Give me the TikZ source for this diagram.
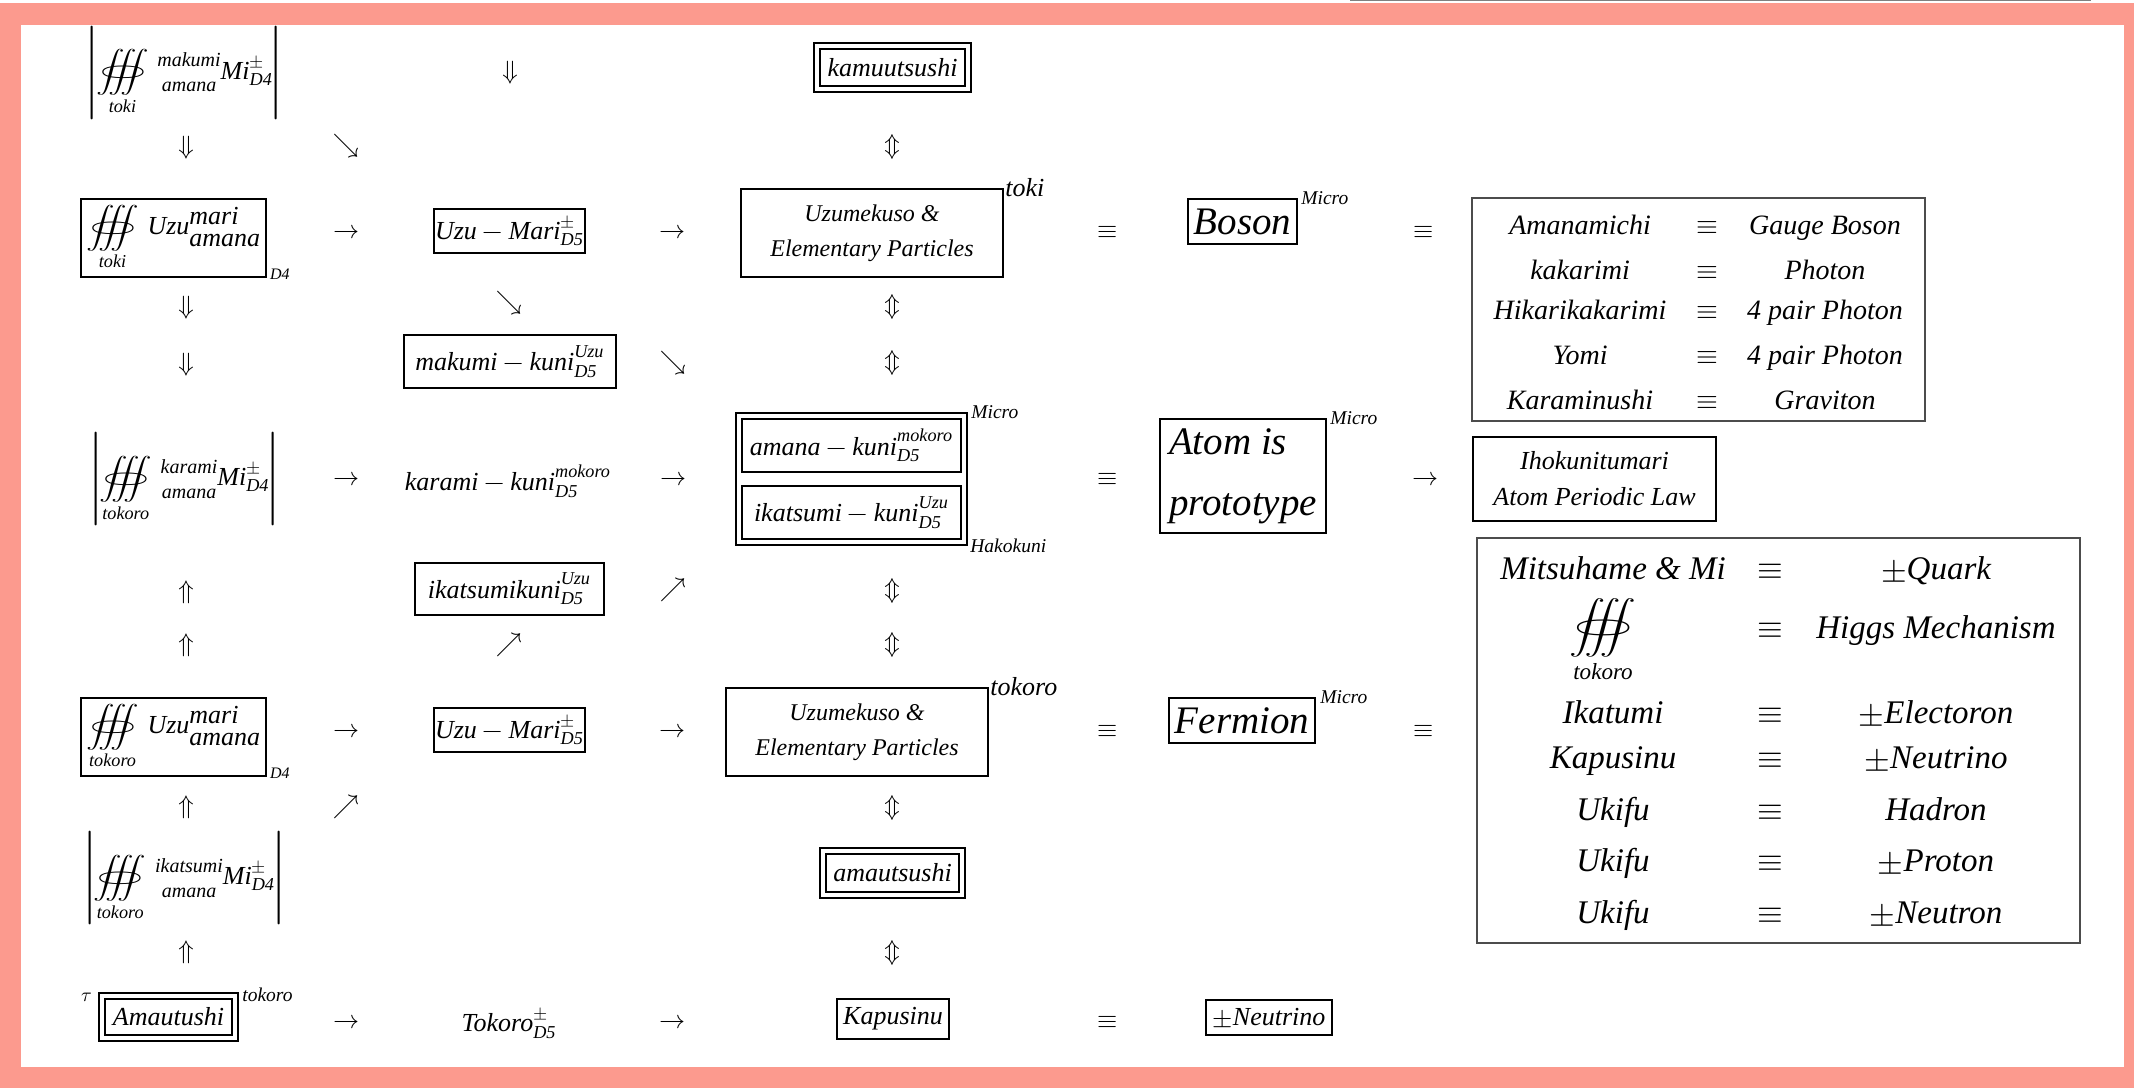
\documentclass[tikz,border=0pt]{standalone}
\usepackage{amsmath}
\usepackage{graphicx}
\usepackage{unicode-math}
\setmainfont{Liberation Serif}
\setmathfont{Latin Modern Math}
\usetikzlibrary{positioning,fit}
\definecolor{framepink}{HTML}{FC9A8E}
\newcommand{\w}[1]{\textit{#1}}
\newcommand{\tint}[1]{\mathop{\vcenter{\hbox{\scalebox{1.1}[0.8]{$\displaystyle\oiiint$}}}}\limits_{\w{#1}}}
\newcommand{\pre}[1]{\text{\fontsize{10}{12.5}\selectfont\itshape\begin{tabular}{@{}c@{}}#1\\amana\end{tabular}}}
\newcommand{\uzu}{\w{Uzu}\rlap{\raisebox{5pt}{\itshape mari}}\raisebox{-6pt}{\itshape amana}}

\begin{document}
\begin{tikzpicture}[x=0.5pt,y=-0.5pt,
	every node/.style={inner sep=0pt,font=\fontsize{13}{16}\selectfont\itshape},
	bx/.style 2 args={draw,line width=1pt,minimum width=#1*0.5pt,minimum height=#2*0.5pt},
	dbx/.style 2 args={bx={#1}{#2},double,double distance=1.9pt},
	suptext/.style={font=\fontsize{9.75}{12}\selectfont\itshape},
	bigtext/.style={font=\fontsize{19.5}{30.5}\selectfont\itshape},
	tabA/.style={font=\fontsize{14}{17}\selectfont\itshape,anchor=base},
	tabB/.style={font=\fontsize{16.5}{20}\selectfont\itshape,anchor=base},
	tabframe/.style={draw=black!70,line width=0.8pt}]

	% frame
	\useasboundingbox (0,0) rectangle (2134,1088);
	\fill[white] (0,0) rectangle (2134,1088);
	\draw[gray,line width=0.5pt] (1350,0.5) -- (2091,0.5);
	\fill[framepink] (0,2.7) rectangle (2134,1088);
	\fill[white] (21,25) rectangle (2124,1067);

	% left column
	\node (mimak) at (184.5,72.5) {$\left|\tint{toki}\,\pre{makumi}\w{Mi}^{\pm}_{\w{D4}}\right|$};
	\node[bx={185}{78}] (uzutoki) at (173.25,238) {$\tint{toki}\,\uzu$};
	\node[font=\fontsize{8}{10}\selectfont\itshape,anchor=west] (uzutokid) at ([xshift=1.5pt,yshift=2pt]uzutoki.south east) {D4};
	\node (mikar) at (184.5,479) {$\left|\tint{tokoro}\,\pre{karami}\w{Mi}^{\pm}_{\w{D4}}\right|$};
	\node[bx={185}{78}] (uzutok) at (173.25,737) {$\tint{tokoro}\,\uzu$};
	\node[font=\fontsize{8}{10}\selectfont\itshape,anchor=west] (uzutokd) at ([xshift=1.5pt,yshift=2pt]uzutok.south east) {D4};
	\node (miika) at (184.5,878) {$\left|\tint{tokoro}\,\pre{ikatsumi}\w{Mi}^{\pm}_{\w{D4}}\right|$};
	\node[dbx={133}{42}] (amaut) at (168.5,1017) {Amautushi};
	\node[suptext,anchor=east] (amautau) at ([xshift=-4.5pt,yshift=-1pt]amaut.north west) {$\tau$};
	\node[suptext,anchor=west] (amautok) at ([xshift=3pt]amaut.north east) {tokoro};

	% second column
	\node[bx={151}{44}] (umari1) at (509.5,231) {$\w{Uzu}-\w{Mari}^{\pm}_{\w{D5}}$};
	\node[bx={212}{53}] (makkuni) at (510,361.5) {$\w{makumi}-\w{kuni}^{\w{Uzu}}_{\w{D5}}$};
	\node (karkuni) at (508,481) {$\w{karami}-\w{kuni}^{\w{mokoro}}_{\w{D5}}$};
	\node[bx={189}{52}] (ikakuni) at (509.5,589) {$\w{ikatsumikuni}^{\w{Uzu}}_{\w{D5}}$};
	\node[bx={151}{44}] (umari2) at (509.5,730) {$\w{Uzu}-\w{Mari}^{\pm}_{\w{D5}}$};
	\node (tokd5) at (509,1023) {$\w{Tokoro}^{\pm}_{\w{D5}}$};

	% middle column
	\node[dbx={151}{43}] (kamu) at (892.5,67.5) {kamuutsushi};
	\node[bx={262}{88},align=center,font=\fontsize{12}{17.5}\selectfont\itshape] (uzume1) at (872,233) {Uzumekuso \&\\Elementary Particles};
	\node[anchor=west] (uzume1s) at ([xshift=0.5pt]uzume1.north east) {toki};
	\node[bx={219}{53}] (hako1) at (851.5,445.5) {$\w{amana}-\w{kuni}^{\w{mokoro}}_{\w{D5}}$};
	\node[bx={219}{53}] (hako2) at (851.5,512.5) {$\w{ikatsumi}-\w{kuni}^{\w{Uzu}}_{\w{D5}}$};
	\node[draw,line width=1pt,fit=(hako1)(hako2),inner sep=2.5pt] (hako) {};
	\node[suptext,anchor=west] (hakomic) at ([xshift=1.5pt]hako.north east) {Micro};
	\node[suptext,anchor=west] (hakoname) at ([xshift=1pt]hako.south east) {Hakokuni};
	\node[bx={262}{88},align=center,font=\fontsize{12}{17.5}\selectfont\itshape] (uzume2) at (857,732) {Uzumekuso \&\\Elementary Particles};
	\node[anchor=west] (uzume2s) at ([xshift=0.5pt]uzume2.north east) {tokoro};
	\node[dbx={139}{44}] (amau) at (892.5,873) {amautsushi};
	\node[bx={112}{40}] (kapu) at (893,1019) {Kapusinu};

	% particle column
	\node[bx={109}{45},bigtext] (boson) at (1242.5,221.5) {Boson};
	\node[suptext,anchor=west] (bosonmic) at ([xshift=1.5pt]boson.north east) {Micro};
	\node[bx={166}{114},bigtext,align=left] (atom) at (1243,476) {Atom is\\prototype};
	\node[suptext,anchor=west] (atommic) at ([xshift=1.5pt]atom.north east) {Micro};
	\node[bx={146}{45},bigtext] (fermion) at (1242,720.5) {Fermion};
	\node[suptext,anchor=west] (fermmic) at ([xshift=2pt]fermion.north east) {Micro};
	\node[bx={126}{35}] (neutr) at (1269,1017.5) {$\pm$Neutrino};

	% arrows
	\foreach \px/\py [count=\i] in {510/73,186/148,186/308,186/365}
		\node (dn\i) at (\px,\py) {$\Downarrow$};
	\foreach \px/\py [count=\i] in {186/592,186/645,186/807,186/952}
		\node (up\i) at (\px,\py) {$\Uparrow$};
	\foreach \px/\py [count=\i] in {346/146,509/303,673/363}
		\node (se\i) at (\px,\py) {$\searrow$};
	\foreach \px/\py [count=\i] in {673/590,509/645,346/807}
		\node (ne\i) at (\px,\py) {$\nearrow$};
	\foreach \px/\py [count=\i] in {346/232,672/232,346/479,673/479,346/731,672/731,346/1022,672/1022,1425/479}
		\node (ri\i) at (\px,\py) {$\rightarrow$};
	\foreach \py [count=\i] in {147,307,363,591,645,808,953}
		\node (ud\i) at (892,\py) {$\Updownarrow$};
	\foreach \px/\py [count=\i] in {1108/232,1424/232,1108/479,1108/731,1424/731,1108/1022}
		\node (eq\i) at (\px,\py) {$\equiv$};

	% boson table
	\draw[tabframe] (1472,198) rectangle (1925,421);
	\foreach \by/\lt/\rt [count=\i] in {234/Amanamichi/Gauge Boson,279/kakarimi/Photon,319/Hikarikakarimi/4 pair Photon,364/Yomi/4 pair Photon,409/Karaminushi/Graviton}{
		\node[tabA] (bl\i) at (1580,\by) {\lt};
		\node[tabA] (be\i) at (1707,\by) {$\equiv$};
		\node[tabA] (br\i) at (1825,\by) {\rt};
	}

	\node[bx={243}{84},align=center,font=\fontsize{13}{18}\selectfont\itshape] (ihoku) at (1594.5,479) {Ihokunitumari\\Atom Periodic Law};

	% fermion table
	\draw[tabframe] (1477,538) rectangle (2080,943);
	\foreach \by/\lt/\rt [count=\i] in {579/Mitsuhame \& Mi/{$\pm$Quark},723/Ikatumi/{$\pm$Electoron},768/Kapusinu/{$\pm$Neutrino},820/Ukifu/Hadron,871/Ukifu/{$\pm$Proton},923/Ukifu/{$\pm$Neutron}}{
		\node[tabB] (fl\i) at (1613,\by) {\lt};
		\node[tabB] (fe\i) at (1770,\by) {$\equiv$};
		\node[tabB] (fr\i) at (1936,\by) {\rt};
	}
	\node[tabB,anchor=center] (higint) at (1603,641) {$\tint{tokoro}$};
	\node[tabB] (higeq) at (1770,638) {$\equiv$};
	\node[tabB] (higgs) at (1936,638) {Higgs Mechanism};
\end{tikzpicture}
\end{document}
